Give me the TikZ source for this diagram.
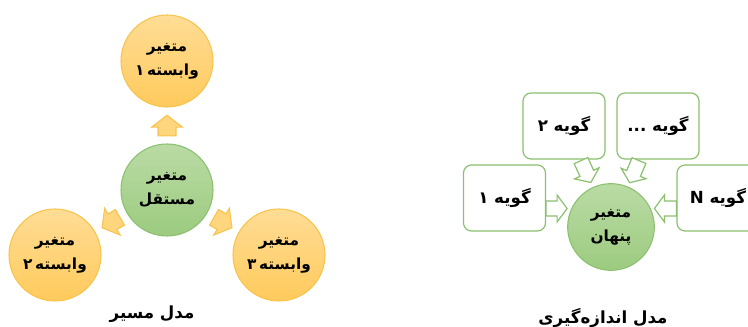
\documentclass[tikz,border=0pt]{standalone}
\usepackage{fontspec}
\usepackage{tikz}
\usetikzlibrary{calc, positioning}
\newfontfamily\fa[Script=Arabic]{DejaVu Sans}
\TeXXeTstate=1

\definecolor{goldline}{HTML}{F8C34E}
\definecolor{goldtop}{HTML}{FFDD96}
\definecolor{goldbot}{HTML}{FFCA5C}
\definecolor{goldarrow}{HTML}{FFD67E}
\definecolor{leafline}{HTML}{8BC06F}
\definecolor{leaftop}{HTML}{BADBA5}
\definecolor{leafbot}{HTML}{9CCB7F}

\newcommand{\rtl}[1]{\beginR #1\endR}

% block arrow: style, tail, tip, shaft half width, head half width, head length
\newcommand{\blockarrow}[6]{%
  \coordinate (ba-h) at ($#3!#6!#2$);
  \draw[#1] ($#2!#4!90:#3$) -- ($(ba-h)!#4!-90:#2$) -- ($(ba-h)!#5!-90:#2$)
    -- #3 -- ($(ba-h)!#5!90:#2$) -- ($(ba-h)!#4!90:#2$) -- ($#2!#4!-90:#3$) -- cycle;
}

\begin{document}
\begin{tikzpicture}[x=0.75pt, y=-0.75pt,
    persian/.style={font=\fa\bfseries\fontsize{11.5}{18}\selectfont, align=center, text=black},
    dep/.style={persian, circle, draw=goldline, line width=0.8pt, top color=goldtop, bottom color=goldbot, minimum size=69pt, inner sep=0pt},
    indep/.style={dep, draw=leafline, top color=leaftop, bottom color=leafbot},
    latent/.style={indep, minimum size=65pt},
    item/.style={persian, font=\fa\bfseries\fontsize{12.5}{16}\selectfont, rectangle, rounded corners=6pt, draw=leafline, fill=white, line width=0.9pt, minimum width=61.5pt, minimum height=49.5pt},
    title/.style={font=\fa\bfseries\fontsize{12.5}{16}\selectfont, text=black},
    yarrow/.style={draw=goldline, fill=goldarrow, line width=0.8pt},
    garrow/.style={draw=leafline, fill=white, line width=0.9pt}
]
    \useasboundingbox (0,0) rectangle (748,327);

    % Path model
        \node[indep] (ind) at (167,190) {\rtl{متغیر}\\\rtl{مستقل}};
        \node[dep] (dep1) at (167,61) {\rtl{متغیر}\\\rtl{وابسته\,۱}};
        \node[dep] (dep2) at (55,255) {\rtl{متغیر}\\\rtl{وابسته\,۲}};
        \node[dep] (dep3) at (279,255) {\rtl{متغیر}\\\rtl{وابسته\,۳}};
        \node[title] (pathtitle) at (152,314) {\rtl{مدل مسیر}};
    % Arrows out of the centre
        \foreach \d in {dep1,dep2,dep3}{
            \coordinate (s) at ($(ind)!0.42!(\d)$);
            \coordinate (e) at ($(ind)!0.58!(\d)$);
            \blockarrow{yarrow}{(s)}{(e)}{6.75pt}{11.6pt}{9pt}
        }

    % Measurement model
        \node[latent] (lat) at (611,227) {\rtl{متغیر}\\\rtl{پنهان}};
        \node[item] (g1) at (504.5,198) {\rtl{گویه ۱}};
        \node[item] (g2) at (564,126) {\rtl{گویه ۲}};
        \node[item] (gd) at (658,126) {\rtl{گویه ...}};
        \node[item] (gn) at (718,198) {\rtl{گویه N}};
        \node[title] (meastitle) at (603,318) {\rtl{مدل اندازه‌گیری}};
    % Arrows into the latent variable
        \coordinate (t1) at ($(g1.east)+(0,10.5)$);
        \coordinate (h1) at ($(t1)+(21,0)$);
        \coordinate (tn) at ($(gn.west)+(0,10.5)$);
        \coordinate (hn) at ($(tn)+(-22,0)$);
        \coordinate (t2) at ($(g2.south)+(17,1)$);
        \coordinate (h2) at ($(t2)!18pt!(lat)$);
        \coordinate (td) at ($(gd.south)+(-19,1)$);
        \coordinate (hd) at ($(td)!18pt!(lat)$);
        \blockarrow{garrow}{(t1)}{(h1)}{5.6pt}{10.1pt}{7.5pt}
        \blockarrow{garrow}{(tn)}{(hn)}{5.6pt}{10.1pt}{7.5pt}
        \blockarrow{garrow}{(t2)}{(h2)}{5.6pt}{10.1pt}{7.5pt}
        \blockarrow{garrow}{(td)}{(hd)}{5.6pt}{10.1pt}{7.5pt}
\end{tikzpicture}
\end{document}
